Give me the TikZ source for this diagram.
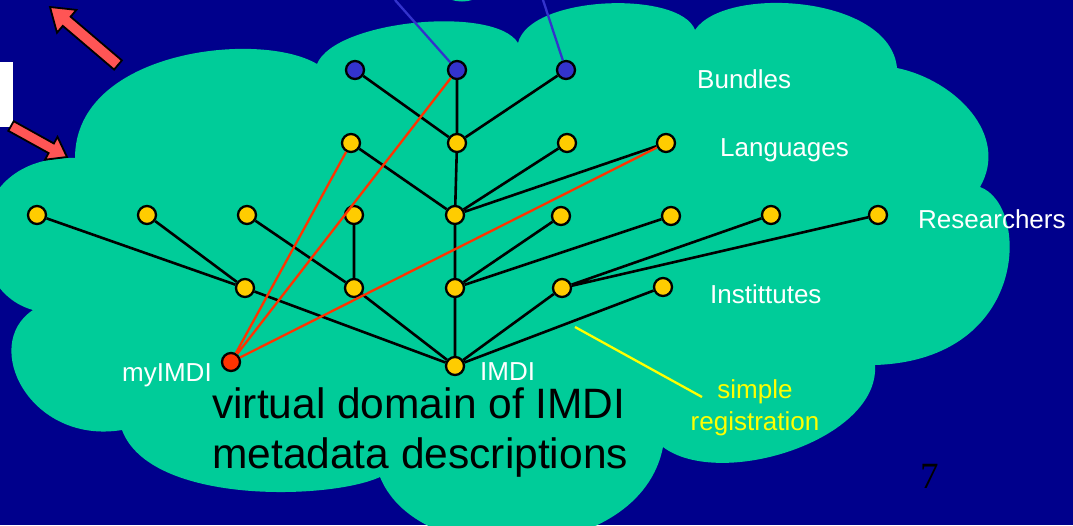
\documentclass[tikz,border=0pt]{standalone}
\usepackage{fontspec}
\setmainfont{Liberation Sans}
\newfontfamily\seriffont{Liberation Serif}
\definecolor{bgblue}{RGB}{0,0,140}
\definecolor{cloudgreen}{HTML}{00CC99}
\definecolor{nodeyellow}{HTML}{FFCC00}
\definecolor{nodeblue}{HTML}{3333CC}
\definecolor{nodered}{HTML}{FF3300}
\definecolor{arrowred}{HTML}{FF5555}
\definecolor{regyellow}{HTML}{FFFF00}
\begin{document}
\begin{tikzpicture}[x=1pt,y=-1pt,
  dot/.style={circle, draw=black, line width=2.3pt, minimum size=18pt, inner sep=0pt},
  ydot/.style={dot, fill=nodeyellow},
  bdot/.style={dot, fill=nodeblue},
  rdot/.style={dot, fill=nodered},
  link/.style={draw=black, line width=2.6pt},
  redlink/.style={draw=nodered, line width=2.3pt},
  bluelink/.style={draw=nodeblue, line width=2.3pt},
  reglink/.style={draw=regyellow, line width=2.3pt},
  lbl/.style={text=white, font=\fontsize{26}{30}\selectfont, inner sep=0pt, anchor=base west},
  reglbl/.style={text=regyellow, font=\fontsize{26}{30}\selectfont, inner sep=0pt, anchor=base},
  bigtext/.style={text=black, font=\fontsize{42.5}{50}\selectfont, inner sep=0pt, anchor=base west},
  arrowshape/.style={fill=arrowred, draw=black, line width=1.8pt, line join=miter}
]
\useasboundingbox (0,0) rectangle (1073,525);
\fill[bgblue] (0,0) rectangle (1073,525);
\begin{scope}
\clip (0,0) rectangle (1073,525);
\fill[cloudgreen] (462,-18) ellipse [x radius=26, y radius=19.5];
\fill[cloudgreen] (75,158) .. controls (75,50) and (260,30) .. (317,64)
  .. controls (335,20) and (495,5) .. (518,43)
  .. controls (530,-5) and (680,-10) .. (695,30)
  .. controls (725,-15) and (890,-5) .. (897,68)
  .. controls (955,80) and (1010,135) .. (980,187)
  .. controls (1030,205) and (1030,360) .. (875,365)
  .. controls (880,440) and (720,490) .. (663,447)
  .. controls (640,565) and (420,575) .. (380,477)
  .. controls (330,500) and (150,505) .. (122,430)
  .. controls (30,445) and (-20,345) .. (33,310)
  .. controls (-40,290) and (-40,155) .. (75,158) -- cycle;
\end{scope}

% white box at left
\fill[white] (0,62) rectangle (13,127);

% red arrows
\draw[arrowshape] (114.1,69.6) -- (62.8,25.9) -- (57.0,32.7) -- (50,7) -- (76.4,9.9) -- (70.6,16.7) -- (121.9,60.4) -- cycle;
\draw[arrowshape] (8.3,130.8) -- (48.6,153.1) -- (45.0,159.7) -- (67,157) -- (57.5,136.9) -- (53.9,143.5) -- (13.7,121.2) -- cycle;

% nodes
\node[bdot] (b1) at (355,70) {};
\node[bdot] (b2) at (457,70) {};
\node[bdot] (b3) at (566,70) {};
\node[ydot] (l1) at (351,143) {};
\node[ydot] (l2) at (457,143) {};
\node[ydot] (l3) at (567,143) {};
\node[ydot] (l4) at (666,143) {};
\node[ydot] (r1) at (37,215) {};
\node[ydot] (r2) at (147,215) {};
\node[ydot] (r3) at (247,215) {};
\node[ydot] (r4) at (354,215) {};
\node[ydot] (r5) at (455,215) {};
\node[ydot] (r6) at (561,216) {};
\node[ydot] (r7) at (671,216) {};
\node[ydot] (r8) at (771,215) {};
\node[ydot] (r9) at (878,215) {};
\node[ydot] (i1) at (245,288) {};
\node[ydot] (i2) at (354,288) {};
\node[ydot] (i3) at (455,288) {};
\node[ydot] (i4) at (562,288) {};
\node[ydot] (i5) at (663,287) {};
\node[ydot] (imdi) at (455,366) {};
\node[rdot] (my) at (231,362) {};

% black links
\draw[link] (b1)--(l2) (b2)--(l2) (b3)--(l2)
  (l1)--(r5) (l2)--(r5) (l3)--(r5) (l4)--(r5)
  (r1)--(i1) (r2)--(i1) (r3)--(i2) (r4)--(i2) (r5)--(i3) (r6)--(i3) (r7)--(i3) (r8)--(i4) (r9)--(i4)
  (i1)--(imdi) (i2)--(imdi) (i3)--(imdi) (i4)--(imdi) (i5)--(imdi);

% red links
\draw[redlink] (my)--(l1) (my)--(b2) (my)--(l4);

% blue links leaving the picture
\coordinate (t1) at (395,0);
\coordinate (t2) at (543,0);
\draw[bluelink] (b2)--(t1) (b3)--(t2);

% yellow pointer
\coordinate (y1) at (575,327);
\coordinate (y2) at (702,397);
\draw[reglink] (y1)--(y2);

% labels
\node[lbl] (bundles) at (697,88) {Bundles};
\node[lbl] (languages) at (720,156) {Languages};
\node[lbl] (researchers) at (918,228) {Researchers};
\node[lbl] (institutes) at (710,303) {Instittutes};
\node[lbl] (mylbl) at (122,381) {myIMDI};
\node[lbl] (imdilbl) at (480,380) {IMDI};
\node[reglbl] (reg1) at (755,398) {simple};
\node[reglbl] (reg2) at (755,430) {registration};
\node[bigtext] (dom1) at (212,418) {virtual domain of IMDI};
\node[bigtext] (dom2) at (212,468) {metadata descriptions};
\node[text=black, font=\seriffont\fontsize{37}{40}\selectfont, inner sep=0pt, anchor=base west] (pagenum) at (920,488) {7};
\end{tikzpicture}
\end{document}
